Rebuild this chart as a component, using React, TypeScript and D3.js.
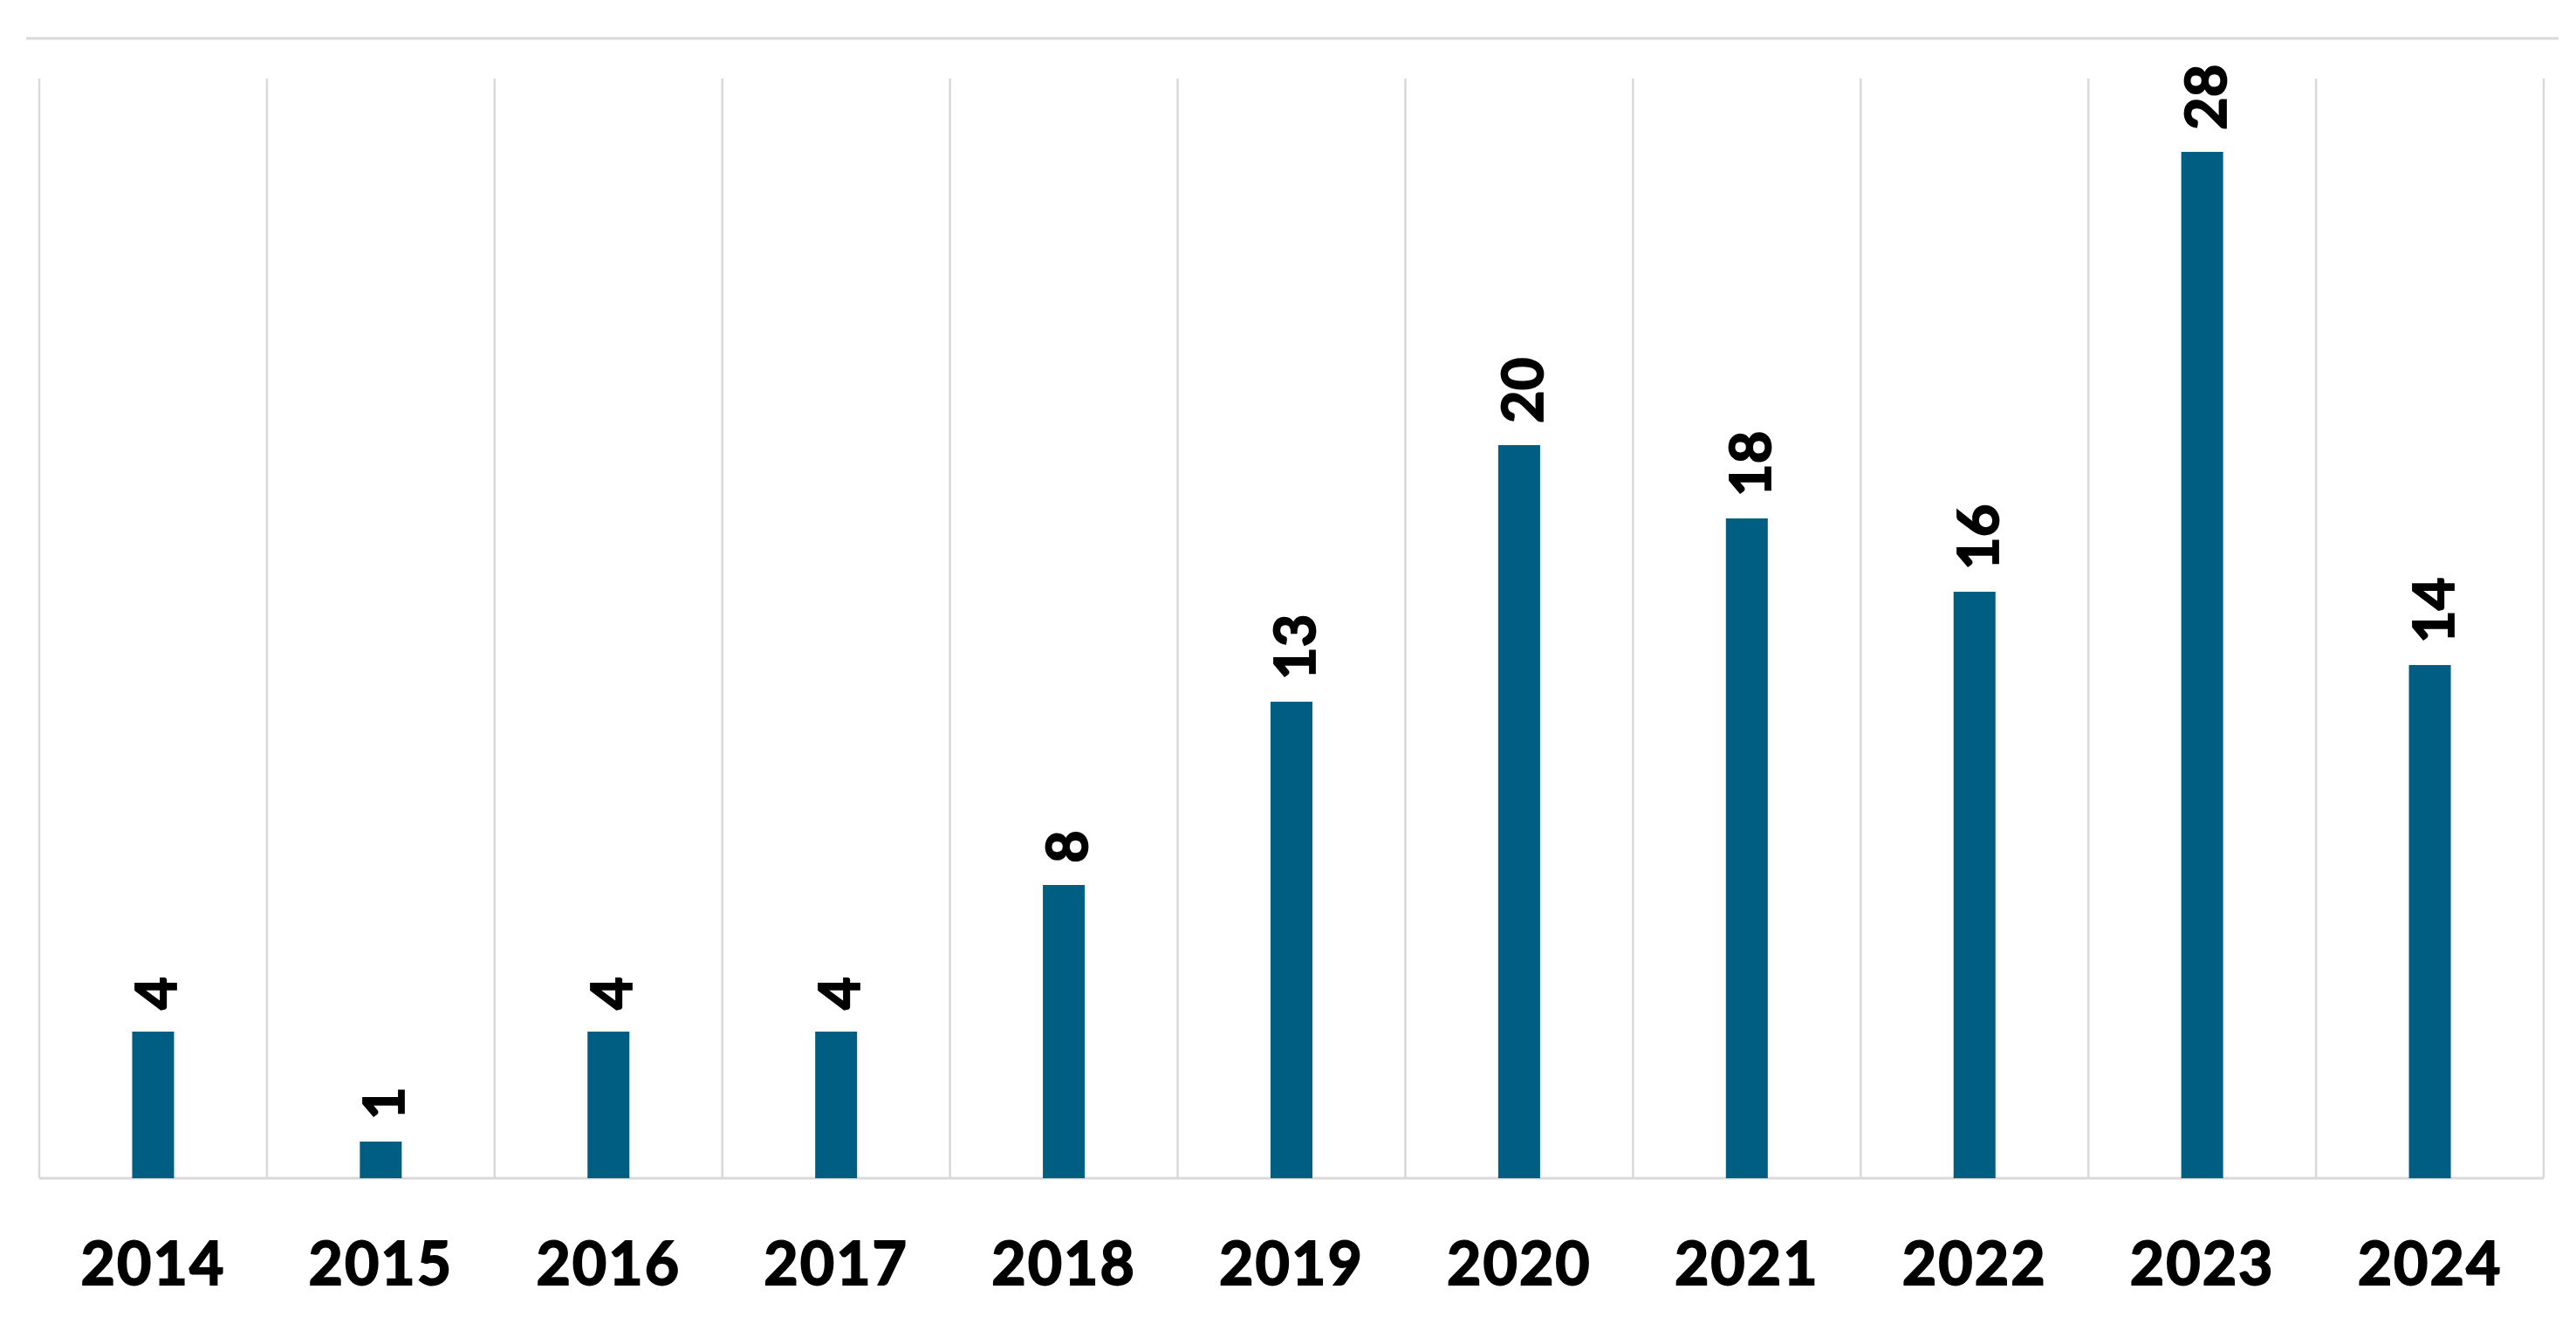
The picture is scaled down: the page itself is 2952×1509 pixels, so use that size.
import React from "react";
import * as d3 from "d3";

const years = ["2014", "2015", "2016", "2017", "2018", "2019", "2020", "2021", "2022", "2023", "2024"];
const counts = [4, 1, 4, 4, 8, 13, 20, 18, 16, 28, 14];
const yMax = 30;

export default function App() {
  const W = 2952;
  const H = 1509;
  const left = 45;
  const right = 2915;
  const top = 90;
  const bottom = 1350;

  const x = d3
    .scaleBand<string>()
    .domain(years)
    .range([left, right])
    .paddingInner(0.816)
    .paddingOuter(0.408);
  const y = d3.scaleLinear().domain([0, yMax]).range([bottom, top]);
  const step = x.step();
  const gridColor = "#d9d9d9";
  const font = "Lato, 'Open Sans', sans-serif";

  return (
    <svg
      width={W}
      height={H}
      style={{ position: "absolute", left: 0, top: 0, background: "#fff" }}
    >
      <rect x={0} y={0} width={W} height={H} fill="#fff" />
      <line x1={30} x2={2932} y1={44} y2={44} stroke={gridColor} strokeWidth={3} />
      {d3.range(years.length + 1).map((i) => (
        <line
          key={"g" + i}
          x1={left + i * step}
          x2={left + i * step}
          y1={top}
          y2={bottom}
          stroke={gridColor}
          strokeWidth={2.5}
        />
      ))}
      <line x1={left} x2={right} y1={bottom} y2={bottom} stroke={gridColor} strokeWidth={3} />
      {years.map((yr, i) => {
        const bx = x(yr)!;
        const bw = x.bandwidth();
        const by = y(counts[i]);
        const cx = bx + bw / 2;
        return (
          <g key={yr}>
            <rect x={bx} y={by} width={bw} height={bottom - by} fill="#005e82" />
            <text
              transform={`translate(${cx + 2},${by - 25}) rotate(-90)`}
              textAnchor="start"
              dominantBaseline="central"
              fontFamily={font}
              fontWeight={700}
              fontSize={65}
              fill="#000"
              stroke="#000"
              strokeWidth={1.8}
            >
              {counts[i]}
            </text>
            <text
              x={cx}
              y={1472}
              textAnchor="middle"
              fontFamily={font}
              fontWeight={700}
              fontSize={68}
              fill="#000"
              stroke="#000"
              strokeWidth={1.8}
              letterSpacing={2}
            >
              {yr}
            </text>
          </g>
        );
      })}
    </svg>
  );
}
